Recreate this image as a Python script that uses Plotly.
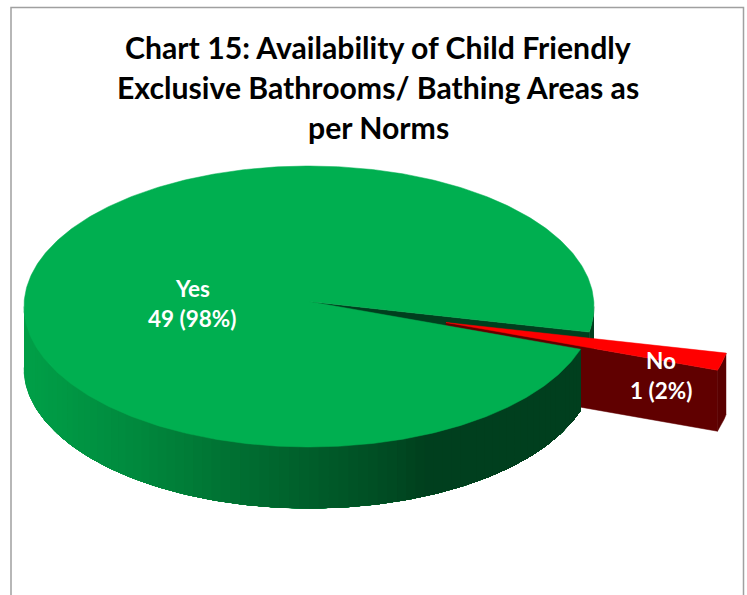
import numpy as np
import plotly.graph_objects as go

categories = ["Yes", "No"]
values = [49, 1]
title_lines = ["Chart 15: Availability of Child Friendly",
               "Exclusive Bathrooms/ Bathing Areas as",
               "per Norms"]

W, H = 747, 595
CX, CY, RX, RY, DEPTH = 309, 306.5, 285, 140.5, 61
HUB_Y = CY - 5             # the tilted view puts the hub a little above the ellipse centre
NO_START = 10.5            # degrees clockwise from east
PULL = (137, 21)

total = sum(values)
no_sweep = 360 * values[1] / total
no_end = NO_START + no_sweep


def arc(a0, a1, dx=0, dy=0, n=None):
    n = n or max(2, int(abs(a1 - a0) * 1.5))
    t = np.radians(np.linspace(a0, a1, n))
    return CX + dx + RX * np.cos(t), CY + dy + RY * np.sin(t)


def poly(x, y, color):
    return go.Scatter(x=list(x), y=list(y), mode="lines", fill="toself",
                      fillcolor=color, line=dict(color=color, width=0.5),
                      hoverinfo="skip", showlegend=False)


def hexmix(stops, x):
    xs = [s[0] for s in stops]
    rgb = [np.interp(x, xs, [s[1][i] for s in stops]) for i in range(3)]
    return "rgb(%d,%d,%d)" % tuple(int(v) for v in rgb)


gradient = [(24, (0, 160, 72)), (130, (0, 138, 62)), (250, (0, 107, 48)),
            (390, (0, 74, 34)), (422, (0, 63, 30)), (600, (0, 63, 30))]

traces = []

# far wall of the gap left by the pulled slice
ex, ey = arc(NO_START, NO_START, n=2)
traces.append(poly([CX, ex[0], ex[0], CX, CX],
                   [HUB_Y, ey[0], ey[0] + DEPTH, HUB_Y + DEPTH, HUB_Y], "rgb(0,63,30)"))
# small piece of rim above the gap
ax, ay = arc(0, NO_START)
traces.append(poly(np.r_[ax, ax[::-1]], np.r_[ay, ay[::-1] + DEPTH], "rgb(0,63,30)"))

# pulled slice: near wall, rim, top
px, py = PULL
nx, ny = arc(no_end, no_end, px, py, n=2)
traces.append(poly([CX + px, nx[0], nx[0], CX + px, CX + px],
                   [HUB_Y + py, ny[0], ny[0] + DEPTH, HUB_Y + py + DEPTH, HUB_Y + py], "rgb(96,0,0)"))
rx_, ry_ = arc(NO_START, no_end, px, py)
traces.append(poly(np.r_[rx_, rx_[::-1]], np.r_[ry_, ry_[::-1] + DEPTH], "rgb(90,0,0)"))
traces.append(poly(np.r_[CX + px, rx_, CX + px], np.r_[HUB_Y + py, ry_, HUB_Y + py], "rgb(255,0,0)"))

# green rim with a left-to-right shading, painted from the far left edge inward
for a in np.arange(180, no_end - 0.01, -2.0):
    sx, sy = arc(a, no_end)
    x_mid = CX + RX * np.cos(np.radians(a))
    traces.append(poly(np.r_[sx, sx[::-1]], np.r_[sy, sy[::-1] + DEPTH], hexmix(gradient, x_mid)))

# green top
gx, gy = arc(no_end, NO_START + 360, n=500)
traces.append(poly(np.r_[CX, gx, CX], np.r_[HUB_Y, gy, HUB_Y], "rgb(0,175,80)"))

fig = go.Figure(traces)

FONT = "Lato"
annotations = []
for txt, y in zip(title_lines, [47, 87, 127]):
    annotations.append(dict(x=378, y=y, text=f"<b>{txt}</b>", showarrow=False, xanchor="center", yanchor="middle",
                            font=dict(family=FONT, size=30.2, color="#000000"), xref="x", yref="y"))
labels = [(categories[0], f"{values[0]} ({values[0] * 100 / total:.0f}%)", 192, 288, 318),
          (categories[1], f"{values[1]} ({values[1] * 100 / total:.0f}%)", 661, 360, 390)]
for name, val, x, y1, y2 in labels:
    for txt, y in ((name, y1), (val, y2)):
        annotations.append(dict(x=x, y=y, text=f"<b>{txt}</b>", showarrow=False, xanchor="center", yanchor="middle",
                                font=dict(family=FONT, size=22.5, color="#FFFFFF"), xref="x", yref="y"))

fig.update_layout(
    width=W, height=H, margin=dict(l=0, r=0, t=0, b=0), showlegend=False,
    paper_bgcolor="white", plot_bgcolor="white",
    xaxis=dict(range=[0, W], visible=False, fixedrange=True),
    yaxis=dict(range=[H, 0], visible=False, fixedrange=True),
    annotations=annotations,
    shapes=[dict(type="rect", xref="x", yref="y", x0=11, x1=743.5, y0=7.5, y1=H + 10,
                 line=dict(color="#A0A0A0", width=1.5), fillcolor="rgba(0,0,0,0)", layer="below")],
)
fig.write_html("out.html", config={"displayModeBar": False},
               post_script="document.body.style.margin='0';document.documentElement.style.overflow='hidden';")
